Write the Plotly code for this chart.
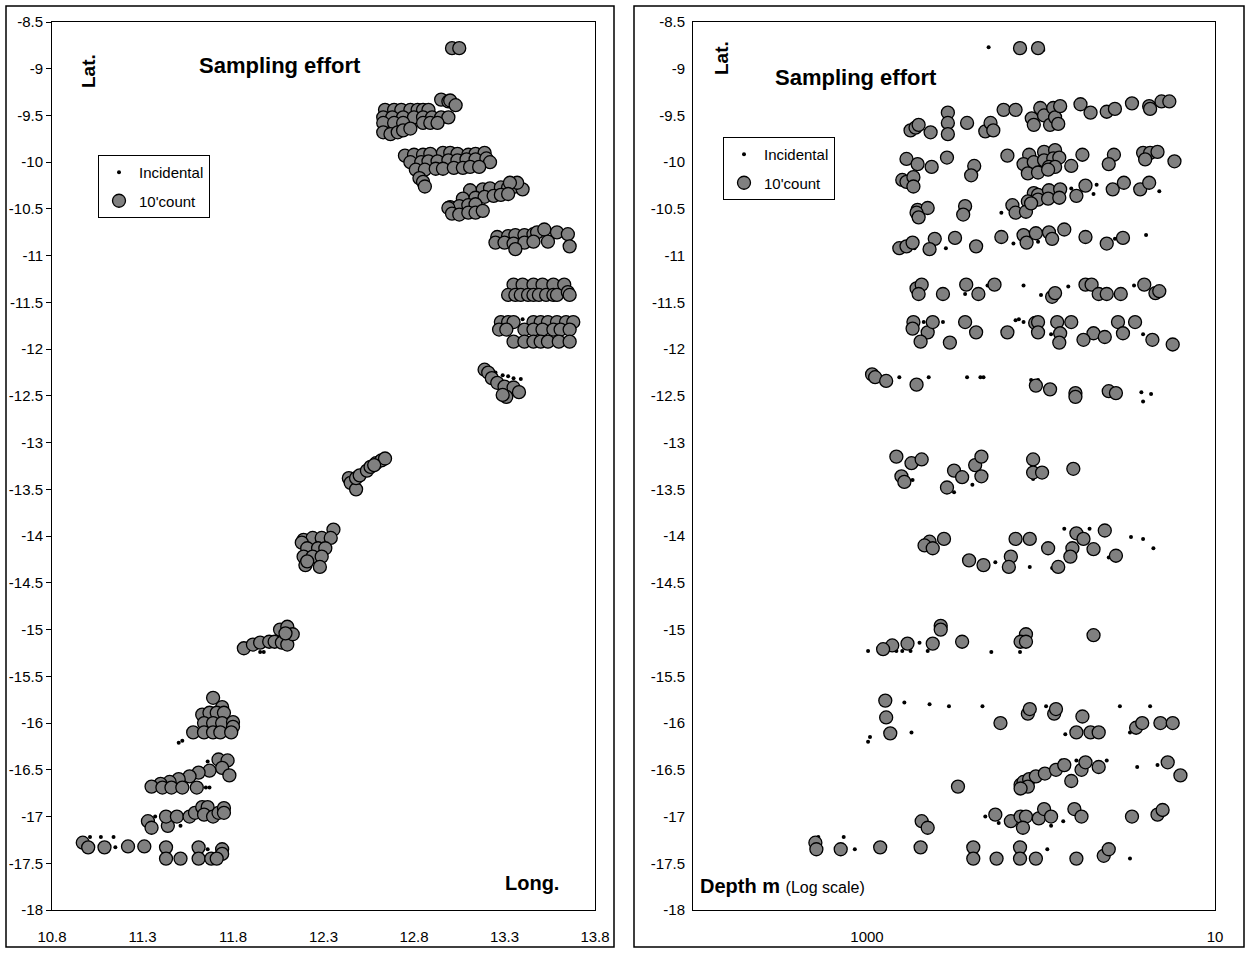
import plotly.graph_objects as go

# ---------------- Left panel: position (longitude / latitude) ----------------
lon_count = [
    13.01, 13.05,
    12.64, 12.69, 12.73, 12.78, 12.82, 12.85, 12.88,
    12.95, 12.99, 13.00, 13.03,
    12.63, 12.68, 12.74, 12.80, 12.85, 12.90, 12.95, 12.99,
    12.63, 12.69, 12.74, 12.85, 12.89, 12.93,
    12.63, 12.67, 12.71, 12.74, 12.78,
    12.75, 12.80, 12.85, 12.89, 12.96, 13.00, 13.04, 13.10, 13.14, 13.19,
    12.78, 12.84, 12.88, 12.93, 12.99, 13.04, 13.09, 13.14, 13.20, 13.22,
    12.81, 12.86, 12.92, 12.96, 13.02, 13.07, 13.11, 13.16,
    12.83, 12.85, 12.86,
    13.11, 13.18, 13.22, 13.28, 13.32, 13.36, 13.40, 13.37, 13.33,
    13.07, 13.14, 13.19, 13.24, 13.28, 13.32,
    13.00, 13.05, 13.10, 13.14, 12.99,
    13.01, 13.05, 13.10, 13.14, 13.18,
    13.26, 13.32, 13.36, 13.41, 13.46, 13.48, 13.52, 13.59, 13.65,
    13.25, 13.30, 13.35, 13.41, 13.46, 13.54, 13.66, 13.36,
    13.35, 13.40, 13.46, 13.51, 13.57, 13.63,
    13.32, 13.36, 13.39, 13.43, 13.46, 13.49, 13.53, 13.57, 13.59, 13.65, 13.66,
    13.28, 13.32, 13.35, 13.46, 13.50, 13.54, 13.59, 13.64, 13.68,
    13.27, 13.31, 13.41, 13.46, 13.51, 13.57, 13.61, 13.66,
    13.35, 13.41, 13.46, 13.50, 13.54, 13.60, 13.66,
    13.19, 13.21, 13.23, 13.26, 13.30, 13.35, 13.38, 13.31, 13.29,
    12.44, 12.45, 12.48, 12.48, 12.50, 12.54, 12.56, 12.59, 12.62, 12.64, 12.58,
    12.355, 12.19, 12.24, 12.29, 12.34, 12.18, 12.21, 12.27, 12.31,
    12.19, 12.24, 12.29, 12.20, 12.28, 12.21,
    11.86, 11.91, 11.95, 12.00, 12.03, 12.07, 12.10, 12.06, 12.10, 12.13, 12.09,
    11.69, 11.74, 11.63, 11.67, 11.71, 11.75, 11.64, 11.69, 11.74, 11.80,
    11.80, 11.58, 11.64, 11.69, 11.73, 11.79,
    11.72, 11.77, 11.74, 11.78, 11.67, 11.61, 11.56, 11.50, 11.45, 11.40,
    11.35, 11.41, 11.46, 11.52, 11.60,
    11.33, 11.35, 11.44, 11.43, 11.49, 11.56, 11.59, 11.63, 11.66, 11.64,
    11.69, 11.72, 11.75, 11.75,
    10.97, 11.00, 11.09, 11.22, 11.31, 11.43, 11.43, 11.51, 11.61, 11.61,
    11.68, 11.74, 11.74, 11.71,
]
lat_count = [
    -8.78, -8.78,
    -9.44, -9.44, -9.44, -9.44, -9.44, -9.44, -9.44,
    -9.33, -9.35, -9.34, -9.39,
    -9.52, -9.52, -9.52, -9.52, -9.52, -9.52, -9.52, -9.52,
    -9.58, -9.58, -9.58, -9.58, -9.58, -9.58,
    -9.68, -9.70, -9.68, -9.66, -9.64,
    -9.93, -9.92, -9.92, -9.91, -9.90, -9.90, -9.91, -9.92, -9.91, -9.90,
    -10.00, -10.00, -9.99, -9.99, -9.98, -9.98, -9.97, -9.97, -9.96, -10.00,
    -10.08, -10.08, -10.07, -10.07, -10.06, -10.06, -10.05, -10.05,
    -10.17, -10.21, -10.26,
    -10.30, -10.29, -10.28, -10.27, -10.27, -10.26, -10.29, -10.22, -10.22,
    -10.39, -10.38, -10.37, -10.36, -10.35, -10.34,
    -10.48, -10.47, -10.46, -10.45, -10.49,
    -10.55, -10.56, -10.54, -10.54, -10.52,
    -10.80, -10.79, -10.78, -10.78, -10.77, -10.75, -10.72, -10.75, -10.77,
    -10.86, -10.86, -10.87, -10.86, -10.85, -10.85, -10.90, -10.93,
    -11.31, -11.31, -11.31, -11.31, -11.31, -11.31,
    -11.42, -11.42, -11.42, -11.42, -11.42, -11.42, -11.42, -11.42, -11.42, -11.39, -11.42,
    -11.71, -11.71, -11.71, -11.71, -11.71, -11.71, -11.71, -11.71, -11.71,
    -11.79, -11.79, -11.79, -11.79, -11.79, -11.79, -11.79, -11.79,
    -11.92, -11.92, -11.92, -11.92, -11.92, -11.92, -11.92,
    -12.22, -12.25, -12.31, -12.36, -12.40, -12.41, -12.46, -12.51, -12.49,
    -13.38, -13.43, -13.50, -13.38, -13.35, -13.30, -13.26, -13.22, -13.19, -13.17, -13.24,
    -13.93, -14.04, -14.02, -14.02, -14.02, -14.07, -14.13, -14.13, -14.13,
    -14.22, -14.22, -14.22, -14.31, -14.33, -14.27,
    -15.20, -15.16, -15.14, -15.13, -15.13, -15.14, -15.16, -15.00, -14.97, -15.05, -15.04,
    -15.73, -15.83, -15.91, -15.89, -15.89, -15.89, -16.00, -16.00, -16.00, -15.99,
    -16.04, -16.10, -16.10, -16.10, -16.10, -16.10,
    -16.39, -16.40, -16.48, -16.56, -16.51, -16.53, -16.57, -16.60, -16.63, -16.65,
    -16.68, -16.69, -16.69, -16.69, -16.69,
    -17.05, -17.12, -17.10, -17.00, -17.00, -17.00, -16.96, -16.90, -16.90, -16.98,
    -17.00, -16.96, -16.91, -16.96,
    -17.28, -17.33, -17.33, -17.32, -17.32, -17.33, -17.45, -17.45, -17.33, -17.45,
    -17.45, -17.35, -17.40, -17.45,
]
lon_incidental = [
    13.00, 13.40, 13.25, 13.29, 13.32, 13.35, 13.39,
    11.95, 11.97, 11.50, 11.52, 11.66, 11.65, 11.67, 11.37, 11.51,
    11.01, 11.07, 11.14, 11.15, 11.66,
]
lat_incidental = [
    -8.77, -11.68, -12.25, -12.28, -12.29, -12.31, -12.32,
    -15.24, -15.24, -16.21, -16.19, -16.41, -16.69, -16.69, -17.00, -17.10,
    -17.22, -17.22, -17.22, -17.33, -17.35,
]

# ---------------- Right panel: depth (m) / latitude ----------------
depth_count = [
    132, 104,
    562, 526, 505, 431, 343, 343, 343, 266, 209, 195, 188, 164, 140, 113, 110,
    101, 96, 88.7, 85, 83, 79.6, 77.6, 59.3, 51.9, 41.9, 37.6, 30, 23.9, 23.6,
    20.3, 18.3,
    593, 512, 425, 347, 242, 252, 156, 117, 96, 83, 126, 110, 96, 85, 78.5,
    90, 83, 67, 119, 104, 91, 57.8, 38.1, 40.8, 25.9, 23.6, 21.4, 25.2, 17.1,
    627, 593, 541, 541,
    110, 104, 90, 77.6, 119, 104, 91, 78.5, 62.6, 55.5, 38.7, 33.4, 26.9, 23.9,
    146, 140, 122, 114, 512, 448, 519, 505, 273, 280,
    652, 593, 547, 408, 437, 312, 236, 169, 126, 121, 107, 90, 86.3, 73.5,
    55.5, 41.9, 33.8,
    519, 485, 505, 366, 269, 229, 185, 86.3, 83, 55.5, 51.2, 46.6, 41.9, 34.8,
    25.5, 22, 20.9,
    541, 547, 448, 419, 273, 236, 156, 108, 104, 104, 80.7, 77.6, 67, 49.9, 43,
    36.1, 33.8, 28.8, 22.9, 492, 334, 78.5, 57, 17.5,
    935, 898, 776, 519, 107, 88.7, 63.4, 63.4, 40.8, 37.1,
    678, 555, 485, 634, 610, 316, 284, 347, 239, 220, 220, 111, 111, 98.6, 65.2,
    437, 467, 419, 361, 140, 116, 91, 62.6, 57, 66, 67.8, 43, 49.9, 37.1, 149,
    153, 259, 214, 79.6,
    377, 377, 716, 808, 585, 419, 284, 122, 131, 122, 49.9,
    785, 776, 735, 171, 119, 116, 84, 82, 62.6, 57.8, 51.9, 46.6, 28.4, 26.2,
    20.6, 17.5,
    131, 126, 117, 107, 95, 82, 73.5, 67, 58.5, 55.5, 46.6, 119, 131, 300,
    18.7, 15.8,
    485, 448, 183, 149, 131, 122, 103, 96, 87.5, 64.3, 58.5, 30, 21.4, 20, 127,
    1980, 1954, 1416, 840, 492, 245, 245, 180, 132, 132, 107, 62.6, 43.6, 40.8,
]
latd_count = [
    -8.78, -8.78,
    -9.66, -9.63, -9.60, -9.68, -9.47, -9.58, -9.70, -9.58, -9.67, -9.58, -9.66,
    -9.44, -9.44, -9.53, -9.60, -9.42, -9.50, -9.60, -9.42, -9.52, -9.59, -9.40,
    -9.38, -9.47, -9.46, -9.43, -9.37, -9.40, -9.43, -9.35, -9.35,
    -9.965, -10.02, -10.05, -9.95, -10.04, -10.14, -9.93, -9.92, -9.89, -9.87,
    -10.02, -10.00, -9.98, -9.96, -9.95, -10.05, -10.05, -10.04, -10.12, -10.11,
    -10.08, -9.92, -9.92, -10.02, -9.90, -9.90, -9.89, -9.97, -9.99,
    -10.19, -10.21, -10.16, -10.26,
    -10.33, -10.35, -10.30, -10.29, -10.42, -10.40, -10.39, -10.38, -10.36,
    -10.25, -10.29, -10.22, -10.29, -10.22,
    -10.46, -10.54, -10.53, -10.44, -10.51, -10.49, -10.54, -10.59, -10.47, -10.56,
    -10.92, -10.90, -10.86, -10.82, -10.93, -10.81, -10.90, -10.80, -10.78,
    -10.86, -10.76, -10.75, -10.82, -10.72, -10.80, -10.87, -10.81,
    -11.35, -11.31, -11.41, -11.41, -11.31, -11.41, -11.31, -11.44, -11.40,
    -11.31, -11.31, -11.41, -11.41, -11.41, -11.31, -11.40, -11.38,
    -11.71, -11.78, -11.82, -11.71, -11.71, -11.82, -11.82, -11.72, -11.71,
    -11.82, -11.71, -11.83, -11.71, -11.83, -11.87, -11.71, -11.83, -11.71,
    -11.90, -11.92, -11.93, -11.93, -11.90, -11.95,
    -12.27, -12.30, -12.34, -12.38, -12.39, -12.43, -12.47, -12.51, -12.45, -12.47,
    -13.15, -13.22, -13.18, -13.36, -13.42, -13.30, -13.37, -13.48, -13.24,
    -13.15, -13.36, -13.18, -13.32, -13.32, -13.28,
    -14.06, -14.10, -14.13, -14.03, -14.03, -14.03, -14.13, -13.97, -14.03,
    -14.13, -14.22, -13.94, -14.14, -14.21, -14.22, -14.33, -14.26, -14.31, -14.33,
    -14.96, -15.00, -15.17, -15.21, -15.15, -15.15, -15.13, -15.05, -15.13,
    -15.13, -15.06,
    -15.76, -15.94, -16.11, -16.00, -15.90, -15.85, -15.90, -15.85, -16.10,
    -15.93, -16.10, -16.10, -16.05, -16.00, -16.00, -16.00,
    -16.66, -16.63, -16.60, -16.57, -16.54, -16.50, -16.45, -16.62, -16.50,
    -16.42, -16.47, -16.68, -16.70, -16.68, -16.42, -16.56,
    -17.05, -17.12, -16.98, -17.05, -17.00, -17.00, -17.02, -16.92, -17.00,
    -16.92, -17.00, -17.00, -16.98, -16.93, -17.12,
    -17.28, -17.35, -17.35, -17.33, -17.33, -17.33, -17.45, -17.45, -17.33,
    -17.45, -17.45, -17.45, -17.42, -17.35,
]
depth_incidental = [
    200, 97,
    67, 47.9, 49.9, 20.9, 169,
    533, 352, 144, 104, 37.6, 24.9,
    273, 203, 126, 100, 69.7, 29.2,
    472, 366, 140, 134, 126, 87.5, 25.9,
    652, 442, 266, 223, 214, 114, 104, 26.5, 23.3, 25.9,
    547, 316, 248, 111,
    73.5, 52.6, 30.4, 25.9, 22.6, 183, 116, 86.3, 40.8,
    986, 678, 627, 562, 499, 448, 193, 132,
    986, 961, 610, 555, 437, 338, 217, 93.5, 80.7, 72.5, 35.2, 23.6, 30.8,
    76.5, 62.6, 41.9, 28, 21.4,
    209, 175, 87.5, 74.5,
    1905, 1361, 1175, 92, 30.8,
]
latd_incidental = [
    -8.77, -8.80,
    -10.28, -10.24, -10.34, -10.31, -10.54,
    -10.92, -10.92, -10.87, -10.85, -10.82, -10.78,
    -11.41, -11.32, -11.32, -11.42, -11.33, -11.32,
    -11.71, -11.71, -11.69, -11.68, -11.71, -11.84, -11.84,
    -12.30, -12.30, -12.30, -12.30, -12.30, -12.33, -12.33, -12.46, -12.48, -12.56,
    -13.40, -13.53, -13.45, -13.39,
    -13.92, -13.92, -14.01, -14.03, -14.13, -14.28, -14.33, -14.34, -14.23,
    -15.23, -15.23, -15.23, -15.23, -15.14, -15.23, -15.24, -15.24,
    -16.20, -16.15, -15.78, -16.10, -15.80, -15.82, -15.82, -15.82, -15.88,
    -16.12, -15.82, -15.82, -16.10,
    -16.40, -16.40, -16.40, -16.47, -16.45,
    -17.00, -17.07, -17.10, -17.05,
    -17.22, -17.22, -17.35, -17.35, -17.45,
]

lon_ticks = [10.8, 11.3, 11.8, 12.3, 12.8, 13.3, 13.8]
lat_ticks = [-8.5 - 0.5 * i for i in range(20)]
lat_labels = [f"{v:g}" for v in lat_ticks]
depth_labels = [1000, 10]
depth_minor = [m * 10 ** e for e in (1, 2, 3) for m in range(1, 10)] + [10000]

FONT = "Liberation Sans, Arial, sans-serif"
COUNT_MARKER = dict(size=13, color="#808080", line=dict(color="black", width=1.3))
INC_MARKER = dict(size=4, color="black")

fig = go.Figure()

fig.add_trace(go.Scatter(x=lon_incidental, y=lat_incidental, mode="markers",
                         name="Incidental", marker=INC_MARKER,
                         xaxis="x", yaxis="y", legend="legend", legendgroup="a"))
fig.add_trace(go.Scatter(x=lon_count, y=lat_count, mode="markers",
                         name="10'count", marker=COUNT_MARKER,
                         xaxis="x", yaxis="y", legend="legend", legendgroup="b"))
fig.add_trace(go.Scatter(x=depth_incidental, y=latd_incidental, mode="markers",
                         name="Incidental", marker=INC_MARKER,
                         xaxis="x2", yaxis="y2", legend="legend2", legendgroup="c"))
fig.add_trace(go.Scatter(x=depth_count, y=latd_count, mode="markers",
                         name="10'count", marker=COUNT_MARKER,
                         xaxis="x2", yaxis="y2", legend="legend2", legendgroup="d"))

W, H = 1250, 954
L_X = [52 / W, 595 / W]
R_X = [693 / W, 1215 / W]
Y_DOM = [1 - 910 / H, 1 - 22 / H]

axis_font = dict(family=FONT, size=15, color="black")
lat_range = [-18, -8.5]
common = dict(showgrid=False, zeroline=False, automargin=False)

fig.update_layout(
    width=W, height=H,
    margin=dict(l=0, r=0, t=0, b=0, pad=0, autoexpand=False),
    paper_bgcolor="white", plot_bgcolor="white",
    font=dict(family=FONT, color="black"),
    showlegend=True,
    # left panel
    xaxis=dict(domain=L_X, anchor="y", range=[10.8, 13.8], tickvals=lon_ticks,
               ticktext=[f"{v:.1f}" for v in lon_ticks], ticks="",
               showline=True, linecolor="black", linewidth=1,
               mirror=True, tickfont=axis_font, ticklabelstandoff=13, **common),
    yaxis=dict(domain=Y_DOM, anchor="x", range=lat_range, tickvals=lat_ticks,
               ticktext=lat_labels, ticks="outside", ticklen=5, tickcolor="black",
               showline=True, linecolor="black",
               linewidth=1, mirror=True, tickfont=axis_font, **common),
    xaxis3=dict(overlaying="x", anchor="y", side="top", matches="x",
                range=[10.8, 13.8], tickvals=lon_ticks, ticks="inside", ticklen=5,
                tickcolor="black", showticklabels=False, showline=False, **common),
    # right panel
    xaxis2=dict(domain=R_X, anchor="y2", type="log", range=[4, 1],
                tickvals=depth_labels, ticktext=["1000", "10"], ticks="",
                showline=True, linecolor="black",
                linewidth=1, mirror=True, tickfont=axis_font, ticklabelstandoff=13,
                **common),
    yaxis2=dict(domain=Y_DOM, anchor="x2", range=lat_range, tickvals=lat_ticks,
                ticktext=lat_labels, ticks="", showline=True, linecolor="black",
                linewidth=1, mirror=True, tickfont=axis_font, ticklabelstandoff=4,
                **common),
    xaxis4=dict(overlaying="x2", anchor="y2", side="top", type="log", range=[4, 1],
                tickvals=depth_minor, ticks="inside", ticklen=4, tickcolor="black",
                showticklabels=False, showline=False, **common),
    yaxis3=dict(overlaying="y2", anchor="x2", side="right", range=lat_range,
                tickvals=lat_ticks, ticks="outside", ticklen=5, tickcolor="black",
                showticklabels=False, showline=False, **common),
    legend=dict(x=98 / W, y=1 - 155 / H, xanchor="left", yanchor="top",
                bordercolor="black", borderwidth=1, bgcolor="white",
                font=dict(family=FONT, size=15, color="black"),
                tracegroupgap=6, itemwidth=30),
    legend2=dict(x=723 / W, y=1 - 137 / H, xanchor="left", yanchor="top",
                 bordercolor="black", borderwidth=1, bgcolor="white",
                 font=dict(family=FONT, size=15, color="black"),
                 tracegroupgap=6, itemwidth=30),
)

# chart-area frames around each panel
for x0, x1 in ((6, 614), (634, 1244)):
    fig.add_shape(type="rect", xref="paper", yref="paper",
                  x0=x0 / W, x1=x1 / W, y0=1 - 947 / H, y1=1 - 6 / H,
                  line=dict(color="black", width=1.5), fillcolor="rgba(0,0,0,0)",
                  layer="below")

lat_font = dict(family=FONT, size=19, color="black")
label_font = dict(family=FONT, size=20, color="black")
title_font = dict(family=FONT, size=22, color="black")
annots = [
    dict(x=88 / W, y=1 - 71 / H, text="<b>Lat.</b>", textangle=-90, font=lat_font),
    dict(x=280 / W, y=1 - 66 / H, text="<b>Sampling effort</b>", font=title_font),
    dict(x=532 / W, y=1 - 883 / H, text="<b>Long.</b>", font=label_font),
    dict(x=722 / W, y=1 - 58 / H, text="<b>Lat.</b>", textangle=-90, font=lat_font),
    dict(x=856 / W, y=1 - 78 / H, text="<b>Sampling effort</b>", font=title_font),
    dict(x=698 / W, y=1 - 886 / H, xanchor="left",
         text="<b>Depth m</b> <span style='font-size:16px'>(Log scale)</span>",
         font=label_font),
]
for a in annots:
    a.setdefault("xanchor", "center")
    fig.add_annotation(xref="paper", yref="paper", showarrow=False, yanchor="middle",
                       **a)

# the page body has a default margin; remove it so the figure fills the window
fig.write_html("out.html",
               post_script="document.body.style.margin='0';"
                           "document.body.style.overflow='hidden';")
